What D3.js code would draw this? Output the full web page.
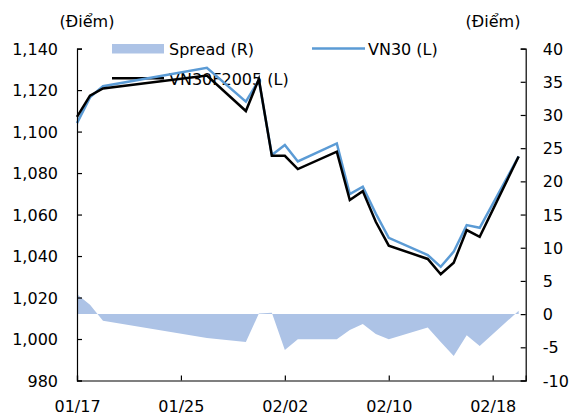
<!DOCTYPE html>
<html>
<head>
<meta charset="utf-8">
<script src="https://cdn.jsdelivr.net/npm/d3@7"></script>
<style>
    body { margin: 0; background: #fff; }
    text { font-family: "DejaVu Sans", Verdana, sans-serif; font-size: 16px; fill: #000; }
</style>
</head>
<body>
<svg class="graph"></svg>
<script>
// dates (date axis, mm/dd)
var dates = ["01/17", "01/18", "01/19", "01/27", "01/30", "01/31", "02/01", "02/02", "02/03",
    "02/06", "02/07", "02/08", "02/09", "02/10", "02/13", "02/14", "02/15", "02/16", "02/17", "02/20"]
var vn30 = [1104.1, 1116.5, 1121.9, 1130.7, 1114.4, 1124.8, 1088.7, 1093.5, 1085.6,
    1094.3, 1069.9, 1073.4, 1060.5, 1048.8, 1040.5, 1034.8, 1042.1, 1054.9, 1053.6, 1088.0]
var vn30f = [1107.1, 1117.3, 1120.8, 1127.0, 1109.9, 1125.3, 1088.3, 1088.3, 1081.9,
    1090.3, 1067.0, 1071.3, 1056.5, 1045.0, 1038.6, 1031.2, 1036.8, 1052.5, 1049.3, 1088.0]
var spread = [3.0, 1.4, -1.0, -3.6, -4.2, 0.1, 0.2, -5.4, -3.8,
    -3.8, -2.4, -1.5, -3.0, -3.8, -2.0, -4.2, -6.3, -3.2, -4.8, 0.5]

var leftTicks = [980, 1000, 1020, 1040, 1060, 1080, 1100, 1120, 1140]
var rightTicks = [-10, -5, 0, 5, 10, 15, 20, 25, 30, 35, 40]
var xTicks = ["01/17", "01/25", "02/02", "02/10", "02/18"]

var width = 572, height = 416
var margin = { top: 48.6, right: 46.3, bottom: 35.5, left: 77 }

var parse = function (s) { return d3.timeParse("%Y/%m/%d")("2020/" + s) }
var data = dates.map(function (d, i) {
    return { date: parse(d), vn30: vn30[i], vn30f: vn30f[i], spread: spread[i] }
})

var svg = d3.select(".graph")
    .attr("width", width)
    .attr("height", height)

var endDate = d3.timeHour.offset(parse("02/20"), 13.5)
var x = d3.scaleTime()
    .domain([parse("01/17"), endDate])
    .range([margin.left, width - margin.right])
var yL = d3.scaleLinear()
    .domain([980, 1140])
    .range([height - margin.bottom, margin.top])
var yR = d3.scaleLinear()
    .domain([-10, 40])
    .range([height - margin.bottom, margin.top])

// spread area (right axis)
var area = d3.area()
    .x(function (d) { return x(d.date) })
    .y0(yR(0))
    .y1(function (d) { return yR(d.spread) })
svg.append("path")
    .datum(data)
    .attr("d", area)
    .attr("fill", "#adc3e6")

// legend
var lg = svg.append("g")
lg.append("rect")
    .attr("x", 112).attr("y", 44)
    .attr("width", 52).attr("height", 9.5)
    .attr("fill", "#adc3e6")
lg.append("text").attr("x", 169).attr("y", 49).attr("dy", "0.35em").text("Spread (R)")
lg.append("line")
    .attr("x1", 312).attr("x2", 365).attr("y1", 48.5).attr("y2", 48.5)
    .attr("stroke", "#5b9bd5").attr("stroke-width", 2.5)
lg.append("text").attr("x", 368).attr("y", 49).attr("dy", "0.35em").text("VN30 (L)")
lg.append("line")
    .attr("x1", 112).attr("x2", 164).attr("y1", 78.3).attr("y2", 78.3)
    .attr("stroke", "#000").attr("stroke-width", 2.5)
lg.append("text").attr("x", 169).attr("y", 79).attr("dy", "0.35em").text("VN30F2005 (L)")

// lines
var lineVN = d3.line()
    .x(function (d) { return x(d.date) })
    .y(function (d) { return yL(d.vn30) })
var lineF = d3.line()
    .x(function (d) { return x(d.date) })
    .y(function (d) { return yL(d.vn30f) })

svg.append("path")
    .datum(data)
    .attr("d", lineVN)
    .attr("fill", "none")
    .attr("stroke", "#5b9bd5")
    .attr("stroke-width", 2.5)
    .attr("stroke-linejoin", "miter")

svg.append("path")
    .datum(data)
    .attr("d", lineF)
    .attr("fill", "none")
    .attr("stroke", "#000")
    .attr("stroke-width", 2.5)
    .attr("stroke-linejoin", "miter")

// axes
var fmt = d3.format(",")
var axL = svg.append("g")
    .attr("transform", "translate(" + margin.left + ",0)")
    .call(d3.axisRight(yL).tickValues(leftTicks).tickSize(5).tickFormat(""))
axL.selectAll("g.tick").append("text")
    .attr("x", -19).attr("dy", "0.35em")
    .attr("text-anchor", "end")
    .text(function (d) { return fmt(d) })

var axR = svg.append("g")
    .attr("transform", "translate(" + (width - margin.right) + ",0)")
    .call(d3.axisLeft(yR).tickValues(rightTicks).tickSize(5).tickFormat(""))
axR.selectAll("g.tick").append("text")
    .attr("x", 17).attr("dy", "0.35em")
    .attr("text-anchor", "start")
    .text(function (d) { return d })

var axB = svg.append("g")
    .attr("transform", "translate(0," + (height - margin.bottom) + ")")
    .call(d3.axisTop(x).tickValues(xTicks.map(parse)).tickSize(5).tickFormat(""))
axB.selectAll("g.tick").append("text")
    .attr("y", 31)
    .attr("text-anchor", "middle")
    .text(function (d) { return d3.timeFormat("%m/%d")(d) })

svg.selectAll(".domain").attr("stroke", "#000").attr("stroke-width", 1.2)
svg.selectAll(".tick line").attr("stroke", "#000").attr("stroke-width", 1.2)

// unit titles
svg.append("text").attr("x", 87).attr("y", 27).attr("text-anchor", "middle").text("(Điểm)")
svg.append("text").attr("x", 493).attr("y", 27).attr("text-anchor", "middle").text("(Điểm)")
</script>
</body>
</html>
